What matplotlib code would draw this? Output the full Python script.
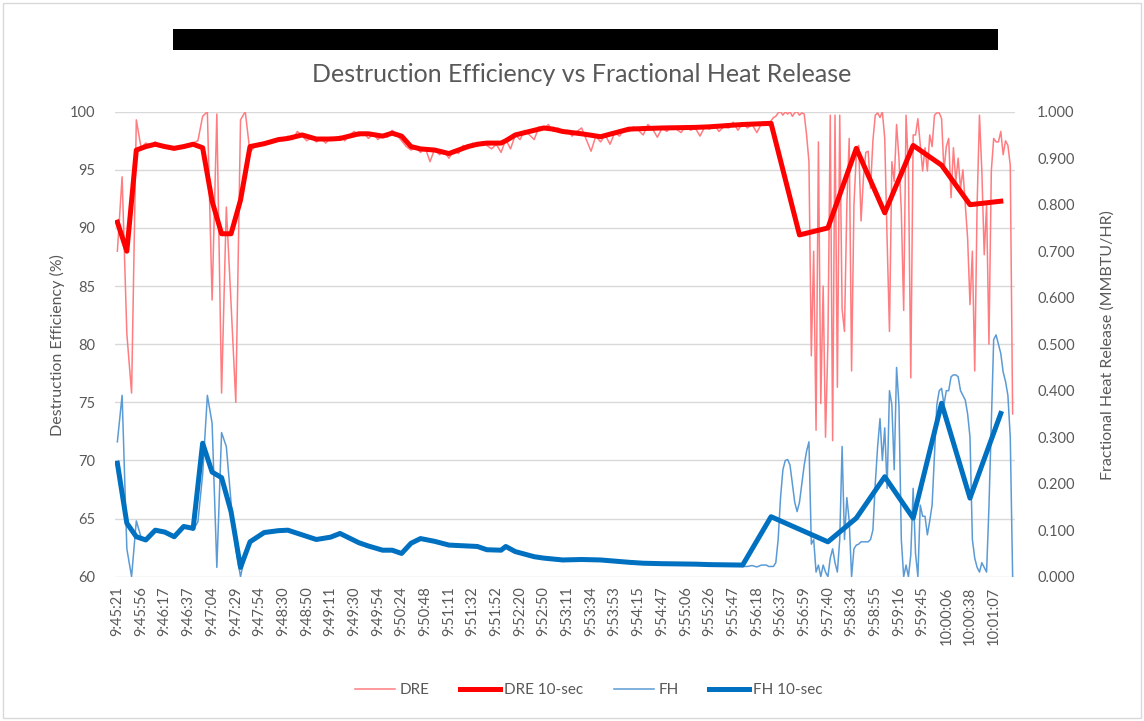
import numpy as np
import matplotlib
matplotlib.use("Agg")
import matplotlib.pyplot as plt
from matplotlib.patches import Rectangle

plt.rcParams['font.family'] = ['Lato', 'DejaVu Sans']

# ---------------- data ----------------
tick_labels = ["9:45:21", "9:45:56", "9:46:17", "9:46:37", "9:47:04", "9:47:29", "9:47:54",
               "9:48:30", "9:48:50", "9:49:11", "9:49:30", "9:49:54", "9:50:24", "9:50:48",
               "9:51:11", "9:51:32", "9:51:52", "9:52:20", "9:52:50", "9:53:11", "9:53:34",
               "9:53:53", "9:54:15", "9:54:47", "9:55:06", "9:55:26", "9:55:47", "9:56:18",
               "9:56:37", "9:56:59", "9:57:40", "9:58:34", "9:58:55", "9:59:16", "9:59:45",
               "10:00:06", "10:00:38", "10:01:07"]
rows_per_label = 5

# raw readings, rows 0..136 (one per row)
dre_raw_a = [88.0, 94.4, 80.9, 75.8, 99.3,
             96.9, 97.3, 97.1, 97.4, 97.0, 96.9, 96.8, 96.7, 97.0, 96.9, 97.1, 97.3, 97.5,
             99.6, 100.0, 83.8, 99.8, 75.8, 91.8, 83.5, 75.0, 99.3, 100.0, 96.5,
             97.0, 97.3, 97.1, 97.5, 97.4, 97.7, 97.5, 97.9, 97.6, 98.3, 97.9, 97.5, 97.8, 97.4, 97.7, 97.3, 97.8,
             97.6, 97.9, 97.5, 98.0, 98.3, 97.9, 98.2, 97.7, 98.1, 97.6, 98.0, 97.8, 98.4, 98.0, 97.5,
             97.0, 96.7, 96.9, 96.5, 96.9, 95.7, 96.8, 96.3, 96.6, 96.0, 96.7, 96.4, 97.1, 96.8, 97.3, 97.0, 97.4, 97.1, 96.8, 97.2,
             96.5, 97.6, 96.8, 98.0, 97.6, 98.4, 98.0, 97.6, 98.7, 98.5, 98.9, 98.3, 98.6, 98.2, 98.4, 97.9, 98.3, 98.6, 97.6, 96.6,
             97.9, 97.4, 98.0, 97.2, 98.2, 97.9, 98.5, 98.3, 98.7, 98.4, 98.0, 98.9, 98.5, 97.8, 98.6, 98.3, 98.7, 98.5, 98.2, 98.8,
             98.4, 98.6, 97.9, 98.7, 98.5, 98.9, 98.3, 98.7, 98.6, 99.1, 98.4, 99.0, 98.6, 98.9, 98.2, 99.0]
# raw readings, rows 137..189 (two per row, denser sampling)
dre_raw_b = [98.9, 98.8, 99.2, 99.5, 99.6, 99.9, 100.0, 99.7, 100.0, 99.8,
             100.0, 99.6, 99.9, 100.0, 99.7, 99.9, 99.8, 98.0, 95.7, 79.0,
             88.0, 72.6, 97.4, 74.9, 85.0, 72.0, 80.0, 99.7, 71.7, 99.7,
             76.3, 99.7, 83.0, 81.1, 92.0, 97.7, 77.7, 92.0, 96.3, 97.1,
             90.6, 94.3, 96.5, 96.6, 93.4, 97.5, 99.7, 99.9, 99.5, 100.0,
             97.7, 89.0, 81.1, 95.7, 94.0, 98.9, 96.0, 91.4, 82.9, 99.7,
             95.1, 77.1, 98.0, 98.0, 99.4, 97.1, 94.9, 96.9, 94.9, 98.0,
             97.0, 99.7, 99.9, 99.9, 99.4, 94.9, 97.0, 97.7, 92.6, 96.9,
             94.0, 96.0, 93.4, 95.0, 92.0, 89.1, 83.4, 88.0, 77.7, 92.0,
             99.7, 94.9, 87.7, 92.0, 80.0, 94.9, 97.7, 97.4, 97.4, 98.3,
             96.3, 97.5, 97.1, 95.4, 74.0]

fh_raw_a = [0.29, 0.39, 0.06, 0.0, 0.12, 0.085,
            0.078, 0.088, 0.102, 0.095, 0.098, 0.088, 0.083, 0.098, 0.11, 0.106, 0.1, 0.118,
            0.22, 0.39, 0.33, 0.02, 0.31, 0.28, 0.16, 0.06, 0.0, 0.05, 0.075,
            0.082, 0.09, 0.097, 0.096, 0.1, 0.098, 0.101, 0.1, 0.096, 0.094, 0.09, 0.086,
            0.083, 0.08, 0.079, 0.082, 0.085, 0.089, 0.094, 0.088, 0.082, 0.077, 0.073, 0.069, 0.067, 0.062, 0.059, 0.057, 0.058, 0.056, 0.053, 0.05,
            0.062, 0.073, 0.079, 0.083, 0.08, 0.078, 0.076, 0.073, 0.07, 0.068, 0.068, 0.067, 0.066, 0.066, 0.065, 0.065, 0.061, 0.058, 0.057, 0.057,
            0.06, 0.066, 0.059, 0.054, 0.05, 0.047, 0.045, 0.043, 0.041, 0.04, 0.039, 0.038, 0.037, 0.036, 0.037, 0.036, 0.037, 0.037, 0.036, 0.036,
            0.035, 0.036, 0.034, 0.033, 0.033, 0.032, 0.031, 0.031, 0.03, 0.029, 0.029, 0.028, 0.028, 0.028, 0.028, 0.027, 0.027, 0.027, 0.027, 0.027,
            0.026, 0.027, 0.026, 0.026, 0.026, 0.025, 0.025, 0.025, 0.024, 0.024, 0.024,
            0.022, 0.022, 0.024, 0.021, 0.025]
fh_raw_b = [0.025, 0.022, 0.022, 0.022, 0.03, 0.08, 0.17, 0.23, 0.25, 0.252,
            0.24, 0.2, 0.16, 0.14, 0.16, 0.2, 0.24, 0.27, 0.29, 0.07,
            0.08, 0.01, 0.025, 0.0, 0.025, 0.01, 0.0, 0.04, 0.06, 0.03,
            0.01, 0.08, 0.28, 0.08, 0.17, 0.12, 0.0, 0.06, 0.068, 0.07,
            0.075, 0.075, 0.075, 0.075, 0.08, 0.1, 0.2, 0.28, 0.34, 0.25,
            0.32, 0.19, 0.40, 0.37, 0.23, 0.45, 0.37, 0.08, 0.0, 0.025,
            0.0, 0.047, 0.19, 0.05, 0.0, 0.154, 0.13, 0.13, 0.09, 0.12,
            0.154, 0.26, 0.37, 0.4, 0.405, 0.37, 0.40, 0.4, 0.43, 0.434,
            0.434, 0.43, 0.4, 0.39, 0.38, 0.35, 0.3, 0.08, 0.04, 0.02,
            0.01, 0.03, 0.02, 0.01, 0.15, 0.33, 0.51, 0.52, 0.5, 0.48,
            0.44, 0.42, 0.39, 0.3, 0.0]

# 10-second averages (row position in the data table, value)
avg_rows = [0, 2, 4, 6, 8, 10, 12, 14, 16, 18, 20, 22, 24, 26, 28, 31, 34, 36, 39, 42, 45, 47,
            51, 53, 56, 58, 60, 62, 64, 67, 70, 74, 76, 78, 81, 82, 84, 88, 90, 92, 94, 98, 102,
            108, 111, 115, 122, 125, 132, 138, 144, 150, 156, 162, 168, 174, 180, 186.5]
dre_10s = [90.5, 88.0, 96.7, 97.0, 97.2, 97.0, 96.85, 97.0, 97.2, 96.9, 92.3, 89.5, 89.5, 92.4,
           97.0, 97.25, 97.6, 97.7, 98.0, 97.65, 97.65, 97.7, 98.1, 98.1, 97.9, 98.15, 97.9, 97.0,
           96.8, 96.7, 96.4, 97.0, 97.2, 97.3, 97.3, 97.5, 98.0, 98.4, 98.6, 98.5, 98.3, 98.1, 97.85,
           98.5, 98.55, 98.6, 98.65, 98.7, 98.9, 99.0, 89.4, 90.0, 96.85, 91.3, 97.1, 95.4, 92.0, 92.3]
fh_10s = [0.244, 0.115, 0.086, 0.079, 0.100, 0.096, 0.086, 0.108, 0.104, 0.287, 0.225, 0.213, 0.140,
          0.020, 0.075, 0.095, 0.099, 0.100, 0.090, 0.080, 0.085, 0.093, 0.073, 0.066, 0.057, 0.057,
          0.050, 0.072, 0.082, 0.076, 0.068, 0.066, 0.065, 0.058, 0.057, 0.065, 0.054, 0.043, 0.040,
          0.038, 0.036, 0.037, 0.036, 0.031, 0.029, 0.028, 0.027, 0.026, 0.025, 0.129, 0.102, 0.075,
          0.126, 0.215, 0.126, 0.373, 0.169, 0.351]

# ---------------- figure ----------------
W, H = 1144, 721
fig = plt.figure(figsize=(W / 100, H / 100), dpi=100)
fig.patch.set_facecolor('white')

left, right, top, bottom = 115, 1015, 111.7, 576.7
ax = fig.add_axes([left / W, 1 - bottom / H, (right - left) / W, (bottom - top) / H])
ax2 = ax.twinx()

txt = '#595959'
grid_c = '#D9D9D9'

n_a = len(dre_raw_a)
x_dre = np.concatenate([np.arange(n_a), n_a + 0.5 * np.arange(len(dre_raw_b))])
dre_raw = np.array(dre_raw_a + dre_raw_b)
x_fh = np.concatenate([np.arange(len(fh_raw_a)), len(fh_raw_a) + 0.5 * np.arange(len(fh_raw_b))])
fh_raw = np.array(fh_raw_a + fh_raw_b)

l1, = ax.plot(x_dre, dre_raw, color='#FF7C80', lw=1.1, zorder=2)
l2, = ax.plot(avg_rows, dre_10s, color='#FF0000', lw=3.6, zorder=3, solid_joinstyle='round')
l3, = ax2.plot(x_fh, fh_raw, color='#5B9BD5', lw=1.1, zorder=2)
l4, = ax2.plot(avg_rows, fh_10s, color='#0070C0', lw=3.6, zorder=3, solid_joinstyle='round')

ax.set_xlim(-0.5, x_dre[-1] + 0.5)
ax.set_ylim(60, 100)
ax.set_yticks(np.arange(60, 101, 5))
ax2.set_ylim(0, 1)
ax2.set_yticks(np.arange(0, 1.0001, 0.1))
ax2.set_yticklabels([f"{v:.3f}" for v in np.arange(0, 1.0001, 0.1)])

tick_pos = np.arange(len(tick_labels)) * rows_per_label
ax.set_xticks(tick_pos)
ax.set_xticklabels(tick_labels, rotation=90)

ax.yaxis.grid(True, color=grid_c, lw=1.0)
ax.set_axisbelow(True)
for a in (ax, ax2):
    for s in a.spines.values():
        s.set_visible(False)
ax.tick_params(axis='both', length=0, colors=txt, labelsize=10.5)
ax.tick_params(axis='y', pad=14)
ax.tick_params(axis='x', pad=7)
ax2.tick_params(axis='y', length=0, colors=txt, labelsize=10.5, pad=16)

fig.text(57 / W, 1 - 345 / H, "Destruction Efficiency (%)", rotation=90, ha='center',
         va='center', color=txt, fontsize=11.5)
fig.text(1108 / W, 1 - 345 / H, "Fractional Heat Release (MMBTU/HR)", rotation=90,
         ha='center', va='center', color=txt, fontsize=11.5)

fig.text(582 / W, 1 - 75 / H, "Destruction Efficiency vs Fractional Heat Release",
         ha='center', va='center', color=txt, fontsize=18)

# redaction bar
fig.patches.append(Rectangle((173 / W, 1 - 50 / H), (998 - 173) / W, 21 / H,
                             transform=fig.transFigure, facecolor='black', edgecolor='none'))
# chart border
fig.patches.append(Rectangle((3 / W, 3 / H), (W - 6) / W, (H - 6) / H, transform=fig.transFigure,
                             facecolor='none', edgecolor=grid_c, lw=1.0))

fig.legend([l1, l2, l3, l4], ["DRE", "DRE 10-sec", "FH", "FH 10-sec"], loc='center',
           bbox_to_anchor=(589 / W, 1 - 690 / H), ncol=4, frameon=False, fontsize=11,
           handlelength=2.6, handletextpad=0.3, columnspacing=2.0, labelcolor=txt)

fig.savefig("out.png", dpi=100, facecolor='white')
